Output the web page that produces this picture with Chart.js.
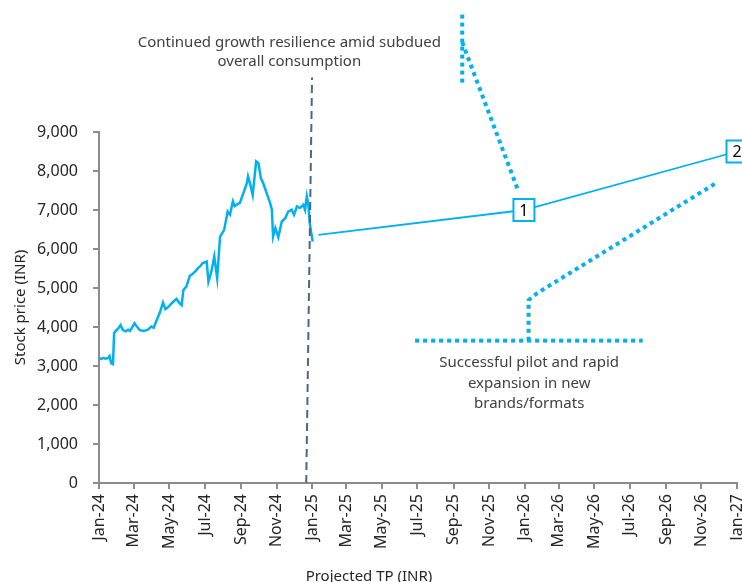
<!DOCTYPE html>
<html>
<head>
<meta charset="utf-8">
<script src="https://cdn.jsdelivr.net/npm/chart.js@4.4.1/dist/chart.umd.min.js"></script>
<style>
  html, body { margin: 0; padding: 0; background: #fff; }
  #wrap { width: 742px; height: 582px; position: relative; }
</style>
</head>
<body>
<div id="wrap"><canvas id="tpChart"></canvas></div>
<script>
// share price history, 2024
const priceDates = [
  '2024-01-02', '2024-01-05', '2024-01-09', '2024-01-12', '2024-01-16', '2024-01-19', '2024-01-22', '2024-01-25',
  '2024-01-27', '2024-01-31', '2024-02-04', '2024-02-07', '2024-02-11', '2024-02-16', '2024-02-20', '2024-02-23',
  '2024-02-27', '2024-03-02', '2024-03-06', '2024-03-11', '2024-03-18', '2024-03-25', '2024-03-31', '2024-04-04',
  '2024-04-08', '2024-04-14', '2024-04-20', '2024-04-24', '2024-04-28', '2024-05-05', '2024-05-13', '2024-05-19',
  '2024-05-22', '2024-05-25', '2024-05-30', '2024-06-05', '2024-06-09', '2024-06-14', '2024-06-19', '2024-06-23',
  '2024-06-27', '2024-07-04', '2024-07-07', '2024-07-12', '2024-07-17', '2024-07-22', '2024-07-27', '2024-08-03',
  '2024-08-09', '2024-08-13', '2024-08-18', '2024-08-21', '2024-08-26', '2024-08-30', '2024-09-05', '2024-09-11',
  '2024-09-13', '2024-09-17', '2024-09-21', '2024-09-27', '2024-10-01', '2024-10-05', '2024-10-09', '2024-10-15',
  '2024-10-21', '2024-10-24', '2024-10-26', '2024-10-30', '2024-11-04', '2024-11-10', '2024-11-16', '2024-11-21',
  '2024-11-27', '2024-12-01', '2024-12-06', '2024-12-11', '2024-12-17', '2024-12-20', '2024-12-23', '2024-12-26',
  '2024-12-28', '2025-01-02'
];
const prices = [
  3200, 3180, 3210, 3190, 3200, 3255, 3070, 3050,
  3845, 3920, 3980, 4050, 3920, 3890, 3930, 3900,
  3990, 4094, 4010, 3920, 3900, 3930, 4010, 3980,
  4136, 4350, 4624, 4460, 4500, 4610, 4720, 4600,
  4560, 4950, 5035, 5310, 5350, 5420, 5510, 5560,
  5640, 5680, 5163, 5420, 5806, 5250, 6320, 6490,
  6960, 6880, 7220, 7100, 7150, 7180, 7434, 7690,
  7860, 7650, 7390, 8246, 8200, 7818, 7690, 7434,
  7177, 7005, 6320, 6535, 6303, 6705, 6790, 6960,
  7005, 6880, 7090, 7050, 7133, 7005, 7347, 7090,
  6663, 6190
];

// projected path: current price -> TP1 -> TP2
const targetDates = ['2025-01-12', '2025-12-31', '2027-01-01'];
const targetPrices = [6360, 7000, 8500];
const targetTags = ['', '1', '2'];

// dashed marker at the end of the actual series
const cutoffDates = ['2024-12-22', '2025-01-01'];
const cutoffValues = [0, 10400];

// dotted connectors
const upperStemDates = ['2025-09-16', '2025-09-16'];
const upperStemValues = [12010, 10240];
const upperLinkDates = ['2025-09-16', '2025-12-21'];
const upperLinkValues = [11300, 7500];
const baseDates = ['2025-06-27', '2026-07-23'];
const baseValues = [3650, 3650];
const lowerLinkDates = ['2026-01-08', '2026-01-08', '2026-01-23', '2026-11-27'];
const lowerLinkValues = [3650, 4690, 4870, 7700];

// notes
const topNote = ['Continued growth resilience amid subdued', 'overall consumption'];
const topNoteAt = ['2024-11-23', 11300];
const bottomNote = ['Successful pilot and rapid', 'expansion in new', 'brands/formats'];
const bottomNoteAt = ['2026-01-09', 3080];

// axes
const tickDates = [
  '2024-01-01', '2024-03-01', '2024-05-01', '2024-07-01', '2024-09-01', '2024-11-01',
  '2025-01-01', '2025-03-01', '2025-05-01', '2025-07-01', '2025-09-01', '2025-11-01',
  '2026-01-01', '2026-03-01', '2026-05-01', '2026-07-01', '2026-09-01', '2026-11-01',
  '2027-01-01'
];
const tickLabels = [
  'Jan-24', 'Mar-24', 'May-24', 'Jul-24', 'Sep-24', 'Nov-24',
  'Jan-25', 'Mar-25', 'May-25', 'Jul-25', 'Sep-25', 'Nov-25',
  'Jan-26', 'Mar-26', 'May-26', 'Jul-26', 'Sep-26', 'Nov-26',
  'Jan-27'
];

const DAY0 = Date.parse('2024-01-01');
const dayOf = d => (Date.parse(d) - DAY0) / 864e5;
const pts = (ds, vs) => ds.map((d, i) => ({ x: dayOf(d), y: vs[i] }));

const BLUE = '#00b0f0';
const TEXT = '#262626';
const FONT = '"Noto Sans", sans-serif';

const dotted = (ds, vs) => ({
  data: pts(ds, vs),
  borderColor: BLUE,
  borderWidth: 4,
  borderDash: [4, 4],
  borderCapStyle: 'butt',
  pointRadius: 0,
  clip: false,
  order: 3
});

const notesPlugin = {
  id: 'notes',
  afterDatasetsDraw(chart) {
    const { ctx, scales: { x, y } } = chart;
    ctx.save();

    // TP boxes
    const meta = chart.getDatasetMeta(1);
    meta.data.forEach((pt, i) => {
      if (!targetTags[i]) return;
      const w = 21, h = 22;
      ctx.fillStyle = '#fff';
      ctx.fillRect(pt.x - w / 2, pt.y - h / 2, w, h);
      ctx.strokeStyle = BLUE;
      ctx.lineWidth = 2;
      ctx.strokeRect(pt.x - w / 2, pt.y - h / 2, w, h);
      ctx.fillStyle = '#000';
      ctx.font = '16px ' + FONT;
      ctx.textAlign = 'center';
      ctx.textBaseline = 'middle';
      ctx.fillText(targetTags[i], pt.x, pt.y + 1);
    });

    // annotations
    ctx.fillStyle = '#404040';
    ctx.font = '15px ' + FONT;
    ctx.textAlign = 'center';
    ctx.textBaseline = 'middle';
    let cx = x.getPixelForValue(dayOf(topNoteAt[0]));
    let cy = y.getPixelForValue(topNoteAt[1]);
    topNote.forEach((t, i) => ctx.fillText(t, cx, cy + i * 19));
    cx = x.getPixelForValue(dayOf(bottomNoteAt[0]));
    cy = y.getPixelForValue(bottomNoteAt[1]);
    bottomNote.forEach((t, i) => ctx.fillText(t, cx, cy + i * 20.5));

    // x axis caption
    ctx.fillStyle = TEXT;
    ctx.font = '15px ' + FONT;
    ctx.fillText('Projected TP (INR)', chart.chartArea.left + 270, 577);
    ctx.restore();
  }
};

new Chart(document.getElementById('tpChart'), {
  type: 'line',
  data: {
    datasets: [
      {
        data: pts(priceDates, prices),
        borderColor: BLUE,
        borderWidth: 2.5,
        pointRadius: 0,
        tension: 0,
        order: 1
      },
      {
        data: pts(targetDates, targetPrices),
        borderColor: BLUE,
        borderWidth: 1.8,
        pointRadius: 0,
        clip: false,
        order: 2
      },
      {
        data: pts(cutoffDates, cutoffValues),
        borderColor: '#46698c',
        borderWidth: 2,
        borderDash: [8, 5],
        pointRadius: 0,
        clip: false,
        order: 0
      },
      dotted(upperStemDates, upperStemValues),
      dotted(upperLinkDates, upperLinkValues),
      dotted(baseDates, baseValues),
      dotted(lowerLinkDates, lowerLinkValues)
    ]
  },
  options: {
    responsive: true,
    maintainAspectRatio: false,
    animation: false,
    layout: { padding: { top: 132, right: 5, left: 0, bottom: 0 } },
    plugins: {
      legend: { display: false },
      tooltip: { enabled: false }
    },
    scales: {
      x: {
        type: 'linear',
        min: 0,
        max: dayOf('2027-01-01'),
        afterBuildTicks: s => { s.ticks = tickDates.map(d => ({ value: dayOf(d) })); },
        afterFit: s => {
          s.height = 99;
          // let the last rotated label sit at the canvas edge
          s.paddingLeft = 0;
          s.paddingRight = 0;
        },
        border: { display: true, color: '#8c8c8c', width: 2 },
        grid: { drawOnChartArea: false, drawTicks: true, tickLength: 6, color: '#8c8c8c', lineWidth: 2 },
        ticks: {
          autoSkip: false,
          minRotation: 90,
          maxRotation: 90,
          padding: 5,
          color: TEXT,
          font: { family: FONT, size: 16 },
          callback: (v, i) => tickLabels[i]
        }
      },
      y: {
        min: 0,
        max: 9000,
        afterFit: s => { s.width = 99; },
        border: { display: true, color: '#8c8c8c', width: 2 },
        grid: { drawOnChartArea: false, drawTicks: true, tickLength: 6, color: '#8c8c8c', lineWidth: 2 },
        ticks: {
          stepSize: 1000,
          padding: 15,
          color: TEXT,
          font: { family: FONT, size: 16 },
          callback: v => v.toLocaleString('en-US')
        },
        title: {
          display: true,
          text: 'Stock price (INR)',
          color: TEXT,
          font: { family: FONT, size: 15 },
          padding: { top: 12, bottom: 0 }
        }
      }
    }
  },
  plugins: [notesPlugin]
});
</script>
</body>
</html>
